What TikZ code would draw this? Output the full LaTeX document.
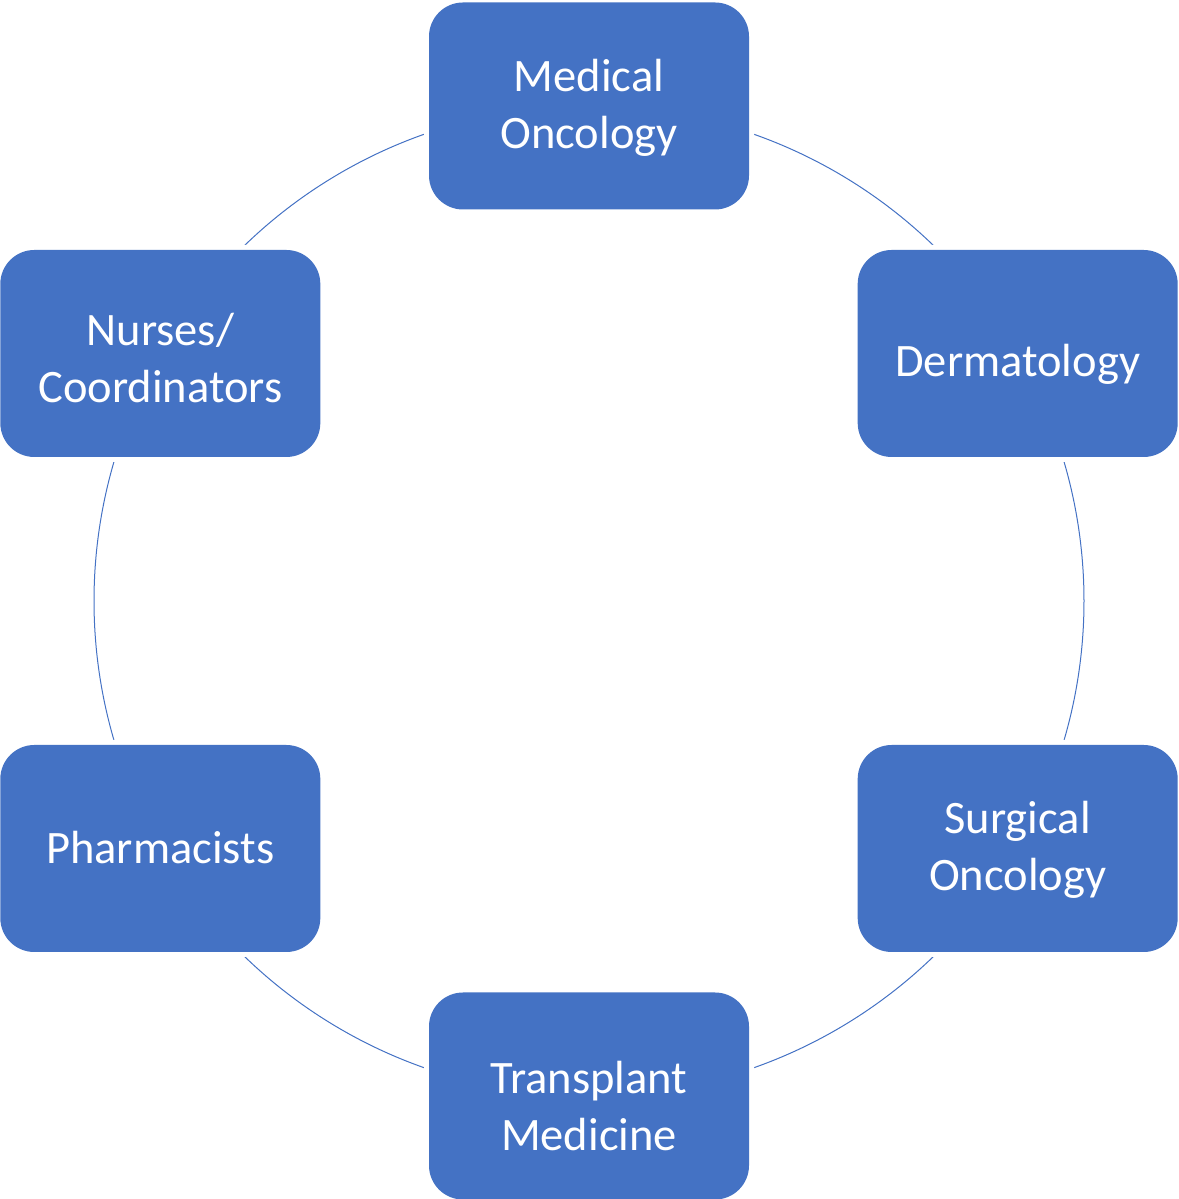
\documentclass[tikz,border=0pt]{standalone}
\usepackage{fontspec}
\setmainfont{Carlito}
\usetikzlibrary{calc,backgrounds}
\definecolor{boxblue}{HTML}{4472C4}
\begin{document}
\begin{tikzpicture}[x=1pt,y=1pt,
  teambox/.style={rectangle, rounded corners=34pt, fill=boxblue, text=white,
    minimum width=320pt, minimum height=207pt, inner sep=0pt, outer sep=0pt,
    align=center, font=\fontsize{46.5}{57}\selectfont, text depth=0pt,
    preaction={draw=white, line width=10pt}},
  ring/.style={draw=boxblue, line width=1pt}]
\useasboundingbox (0,0) rectangle (1178,1199);
\coordinate (ctr) at (589,598);
\node[teambox, text height=85pt] (med) at ($(ctr)+(90:495)$) {Medical\\Oncology};
\node[teambox, text height=46pt] (derm) at ($(ctr)+(30:495)$) {Dermatology};
\node[teambox, text height=84pt] (surg) at ($(ctr)+(-30:495)$) {Surgical\\Oncology};
\node[teambox, text height=109pt] (trans) at ($(ctr)+(-90:495)$) {Transplant\\Medicine};
\node[teambox, text height=30pt] (pharm) at ($(ctr)+(210:495)$) {Pharmacists};
\node[teambox, text height=98pt] (nurse) at ($(ctr)+(150:495)$) {Nurses/\\Coordinators};
\begin{scope}[on background layer]
\draw[ring] (med.center) arc[start angle=90, end angle=30, radius=495];
\draw[ring] (derm.center) arc[start angle=30, end angle=-30, radius=495];
\draw[ring] (surg.center) arc[start angle=-30, end angle=-90, radius=495];
\draw[ring] (trans.center) arc[start angle=-90, end angle=-150, radius=495];
\draw[ring] (pharm.center) arc[start angle=210, end angle=150, radius=495];
\draw[ring] (nurse.center) arc[start angle=150, end angle=90, radius=495];
\end{scope}
\end{tikzpicture}
\end{document}
